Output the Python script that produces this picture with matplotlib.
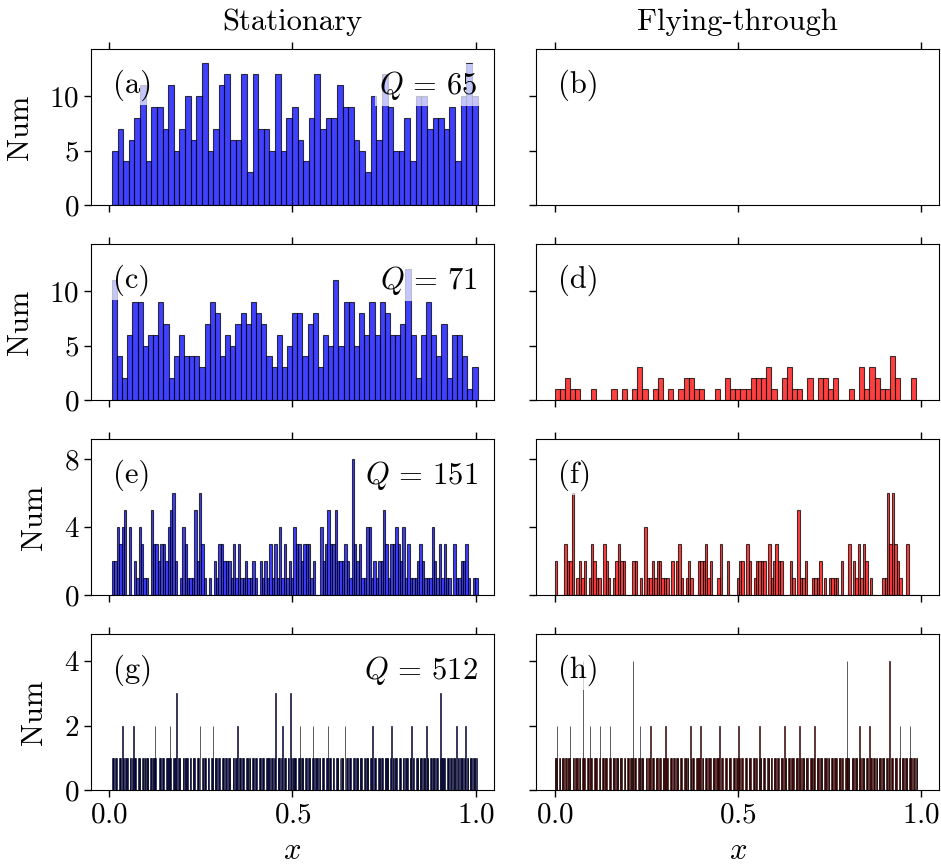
import numpy as np
import matplotlib.pyplot as plt

plt.rcParams['font.family'] = ['cmr10', 'DejaVu Serif']
plt.rcParams['mathtext.fontset'] = 'cm'
plt.rcParams['axes.formatter.use_mathtext'] = True
plt.rcParams['font.size'] = 22

# histogram counts, stationary particles (left column)
stat_65 = [5, 7, 4, 6, 8, 11, 4, 9, 9, 7, 11, 5, 7, 10, 6, 10, 13, 5, 7, 11,
           12, 6, 6, 12, 3, 12, 7, 7, 5, 12, 5, 8, 9, 6, 4, 8, 12, 7, 8, 8,
           11, 9, 9, 6, 5, 3, 10, 6, 12, 9, 5, 5, 8, 4, 10, 10, 7, 8, 8, 7,
           9, 4, 10, 13, 10]
stat_71 = [11, 4, 2, 6, 9, 9, 5, 6, 6, 9, 7, 2, 4, 6, 4, 4, 4, 3, 7, 9,
           8, 4, 6, 5, 7, 8, 7, 9, 8, 7, 4, 3, 6, 3, 5, 8, 8, 4, 7, 8,
           3, 6, 5, 11, 5, 9, 9, 5, 8, 6, 9, 6, 9, 8, 6, 6, 7, 12, 6, 2,
           6, 9, 6, 4, 7, 2, 6, 6, 4, 1, 3]
stat_151 = [2, 2, 4, 3, 4, 5, 0, 4, 0, 2, 1, 4, 3, 1, 1, 0, 5, 3, 3, 2,
            3, 3, 2, 4, 5, 6, 2, 0, 1, 4, 3, 1, 1, 1, 5, 2, 6, 3, 1, 0,
            1, 0, 2, 1, 3, 3, 2, 2, 2, 1, 3, 1, 3, 1, 1, 2, 1, 1, 2, 1,
            0, 2, 1, 2, 1, 3, 1, 3, 1, 4, 1, 3, 1, 2, 1, 4, 3, 3, 2, 3,
            3, 3, 1, 2, 0, 0, 4, 2, 3, 5, 3, 3, 5, 2, 2, 2, 3, 2, 1, 8,
            3, 2, 3, 1, 1, 4, 4, 1, 2, 1, 2, 2, 5, 3, 1, 3, 3, 4, 3, 2,
            4, 1, 3, 1, 1, 1, 2, 3, 2, 1, 1, 1, 4, 2, 1, 3, 1, 3, 1, 1,
            0, 3, 1, 1, 2, 2, 3, 1, 0, 1, 1]
stat_512 = [int(c) for c in (
    "11100110" "00111021" "10011100" "01101021" "11000111" "00110110" "11100011" "01112100"
    "00111011" "10001101" "12100011" "01300111" "00011011" "11000110" "01110001" "11020011"
    "01110011" "00011200" "11100110" "00111001" "10011100" "01100112" "00111011" "10001110"
    "11001110" "01100011" "10111000" "11011001" "10011300" "11100120" "01110011" "00310111"
    "11000112" "01110001" "10011100" "12100111" "00110011" "10001120" "11100110" "00111001"
    "01110020" "11001110" "00110011" "10011100" "01101110" "00112001" "11000111" "01100011"
    "11100012" "01101110" "00111001" "10011100" "01120110" "00111001" "11001110" "21100011"
    "01110011" "00013110" "11000111" "00110011" "10201100" "11100112" "01100111" "00111010"
)]

# histogram counts, flying-through particles (right column)
fly_71 = [1, 1, 2, 1, 1, 0, 0, 1, 0, 0, 0, 1, 0, 1, 0, 1, 3, 1, 0, 1,
          2, 0, 1, 0, 1, 2, 2, 1, 1, 0, 0, 1, 0, 2, 1, 1, 1, 1, 2, 2,
          2, 3, 1, 0, 2, 3, 1, 1, 0, 2, 0, 2, 2, 1, 2, 0, 0, 1, 0, 3,
          1, 3, 2, 1, 1, 4, 2, 0, 0, 2, 0]
fly_151 = [2, 0, 0, 0, 3, 2, 2, 6, 0, 1, 2, 1, 2, 0, 1, 3, 2, 1, 1, 0,
           3, 2, 1, 0, 1, 2, 3, 2, 2, 0, 0, 0, 2, 2, 0, 1, 0, 4, 1, 1,
           2, 1, 2, 2, 1, 1, 1, 0, 2, 0, 2, 3, 1, 0, 1, 2, 1, 0, 0, 2,
           2, 2, 3, 1, 2, 0, 0, 1, 3, 0, 0, 2, 0, 0, 0, 1, 2, 2, 0, 3,
           2, 0, 1, 2, 2, 2, 2, 0, 3, 1, 2, 3, 2, 2, 0, 0, 0, 2, 1, 0,
           5, 1, 1, 2, 0, 0, 1, 1, 1, 2, 0, 1, 0, 1, 1, 1, 1, 0, 2, 0,
           0, 3, 0, 2, 1, 3, 1, 3, 2, 0, 1, 0, 0, 0, 0, 1, 1, 6, 3, 6,
           3, 2, 1, 0, 0, 3, 0, 0, 0, 0, 0]
fly_512 = [int(c) for c in (
    "11120011" "00111001" "10111200" "01100111" "00110014" "11000111" "02110001" "11100012"
    "00111011" "10001210" "01110011" "10011100" "01100111" "00111401" "11000112" "01110001"
    "10011200" "11100111" "00110001" "11201100" "01110011" "00111001" "11000111" "01100210"
    "11100011" "01120011" "00111001" "11000111" "00111120" "01100011" "10011100" "01110011"
    "21100110" "00111001" "11000111" "01100121" "10011100" "01110011" "00111001" "10001110"
    "02110011" "10011100" "01110121" "00111001" "11000111" "01120011" "10011100" "01110011"
    "00111001" "11000111" "01100011" "41110001" "11001110" "01210011" "10011100" "21100111"
    "01100111" "00111001" "10140011" "10011100" "01200111" "00111001" "21100110" "01100000"
)]

q_values = [65, 71, 151, 512]
stat_counts = [stat_65, stat_71, stat_151, stat_512]
fly_counts = [None, fly_71, fly_151, fly_512]
panel_tags = [('(a)', '(b)'), ('(c)', '(d)'), ('(e)', '(f)'), ('(g)', '(h)')]
y_tops = [14.3, 14.3, 9.16, 4.83]
y_ticks = [[0, 5, 10], [0, 5, 10], [0, 4, 8], [0, 2, 4]]

stat_range = (0.007, 1.005)
fly_range = (0.0, 1.0)

label_box = dict(boxstyle='square,pad=0.15', fc='white', ec='none', alpha=0.7)


def draw_hist(ax, counts, lo, hi, color):
    edges = np.linspace(lo, hi, len(counts) + 1)
    lw = 0.8 if len(counts) < 300 else 0.6
    ax.bar(edges[:-1], counts, width=np.diff(edges), align='edge',
           color=color, edgecolor='black', linewidth=lw, alpha=0.75)


fig, axes = plt.subplots(4, 2, figsize=(9.41, 8.67), dpi=100, sharex=True)
fig.subplots_adjust(left=0.0967, right=0.9982, top=0.9431, bottom=0.0888,
                    wspace=0.105, hspace=0.2524)

for i in range(4):
    ax_s, ax_f = axes[i]
    draw_hist(ax_s, stat_counts[i], *stat_range, 'blue')
    if fly_counts[i] is not None:
        draw_hist(ax_f, fly_counts[i], *fly_range, 'red')

    for ax, tag in zip((ax_s, ax_f), panel_tags[i]):
        ax.set_xlim(-0.05, 1.05)
        ax.set_ylim(0, y_tops[i])
        ax.set_xticks([0, 0.5, 1])
        ax.set_yticks(y_ticks[i])
        ax.tick_params(direction='out', top=True, length=5, width=1,
                       labelsize=21)
        ax.text(0.055, 0.77, tag, transform=ax.transAxes, ha='left',
                va='center', fontsize=22, bbox=label_box)

    ax_s.text(0.96, 0.77, rf'$Q\,=\,{q_values[i]}$', transform=ax_s.transAxes,
              ha='right', va='center', fontsize=22, bbox=label_box)
    ax_s.set_ylabel('Num', fontsize=22, labelpad=11)
    ax_f.tick_params(labelleft=False)

axes[0, 0].set_title('Stationary', fontsize=22, pad=14)
axes[0, 1].set_title('Flying-through', fontsize=22, pad=14)
axes[3, 0].set_xlabel('$x$', fontsize=22, labelpad=7)
axes[3, 1].set_xlabel('$x$', fontsize=22, labelpad=7)

fig.savefig('out.png', dpi=100)
